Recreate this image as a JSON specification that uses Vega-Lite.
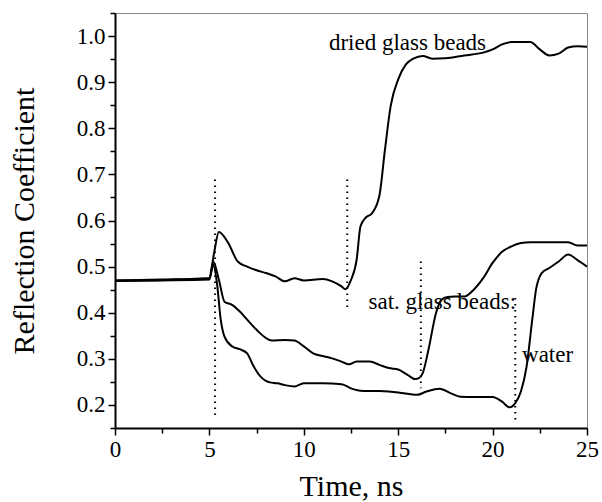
{
  "$schema": "https://vega.github.io/schema/vega-lite/v6.json",
  "autosize": {"type": "none"},
  "width": 472,
  "height": 415,
  "padding": {"left": 115, "top": 13, "right": 15, "bottom": 74},
  "background": "white",
  "config": {
    "font": "Liberation Serif",
    "view": {"stroke": "#888", "strokeWidth": 1},
    "axis": {"grid": false, "labelFont": "Liberation Serif", "titleFont": "Liberation Serif", "labelColor": "black", "titleColor": "black", "domainColor": "black", "tickColor": "black", "titleFontWeight": "normal"}
  },
  "datasets": {
    "curves": [
      {"t": 0, "r": 0.47, "s": "dried"}, {"t": 2.5, "r": 0.472, "s": "dried"}, {"t": 5, "r": 0.475, "s": "dried"}, {"t": 5.25, "r": 0.53, "s": "dried"}, {"t": 5.5, "r": 0.575, "s": "dried"}, {"t": 6, "r": 0.551, "s": "dried"}, {"t": 6.5, "r": 0.511, "s": "dried"}, {"t": 7, "r": 0.5, "s": "dried"}, {"t": 7.5, "r": 0.492, "s": "dried"}, {"t": 8, "r": 0.486, "s": "dried"}, {"t": 8.5, "r": 0.479, "s": "dried"}, {"t": 9, "r": 0.468, "s": "dried"}, {"t": 9.5, "r": 0.475, "s": "dried"}, {"t": 10, "r": 0.47, "s": "dried"}, {"t": 11, "r": 0.473, "s": "dried"}, {"t": 11.5, "r": 0.468, "s": "dried"}, {"t": 12, "r": 0.457, "s": "dried"}, {"t": 12.2, "r": 0.451, "s": "dried"}, {"t": 12.5, "r": 0.471, "s": "dried"}, {"t": 12.8, "r": 0.515, "s": "dried"}, {"t": 13, "r": 0.587, "s": "dried"}, {"t": 13.3, "r": 0.607, "s": "dried"}, {"t": 13.6, "r": 0.615, "s": "dried"}, {"t": 14, "r": 0.653, "s": "dried"}, {"t": 14.3, "r": 0.754, "s": "dried"}, {"t": 14.6, "r": 0.848, "s": "dried"}, {"t": 15, "r": 0.906, "s": "dried"}, {"t": 15.4, "r": 0.938, "s": "dried"}, {"t": 15.8, "r": 0.951, "s": "dried"}, {"t": 16.3, "r": 0.957, "s": "dried"}, {"t": 16.8, "r": 0.951, "s": "dried"}, {"t": 17.5, "r": 0.952, "s": "dried"}, {"t": 18.5, "r": 0.958, "s": "dried"}, {"t": 19.5, "r": 0.964, "s": "dried"}, {"t": 20, "r": 0.971, "s": "dried"}, {"t": 20.5, "r": 0.982, "s": "dried"}, {"t": 21, "r": 0.987, "s": "dried"}, {"t": 22, "r": 0.987, "s": "dried"}, {"t": 22.5, "r": 0.971, "s": "dried"}, {"t": 23, "r": 0.958, "s": "dried"}, {"t": 23.5, "r": 0.962, "s": "dried"}, {"t": 24, "r": 0.975, "s": "dried"}, {"t": 24.5, "r": 0.978, "s": "dried"}, {"t": 25, "r": 0.977, "s": "dried"},
      {"t": 0, "r": 0.47, "s": "sat"}, {"t": 2.5, "r": 0.471, "s": "sat"}, {"t": 5, "r": 0.474, "s": "sat"}, {"t": 5.2, "r": 0.511, "s": "sat"}, {"t": 5.5, "r": 0.472, "s": "sat"}, {"t": 5.8, "r": 0.424, "s": "sat"}, {"t": 6.2, "r": 0.417, "s": "sat"}, {"t": 6.6, "r": 0.403, "s": "sat"}, {"t": 7, "r": 0.385, "s": "sat"}, {"t": 7.5, "r": 0.363, "s": "sat"}, {"t": 8, "r": 0.345, "s": "sat"}, {"t": 8.3, "r": 0.34, "s": "sat"}, {"t": 9, "r": 0.341, "s": "sat"}, {"t": 9.5, "r": 0.34, "s": "sat"}, {"t": 10, "r": 0.327, "s": "sat"}, {"t": 10.5, "r": 0.312, "s": "sat"}, {"t": 11, "r": 0.306, "s": "sat"}, {"t": 11.5, "r": 0.301, "s": "sat"}, {"t": 12, "r": 0.294, "s": "sat"}, {"t": 12.4, "r": 0.288, "s": "sat"}, {"t": 12.8, "r": 0.294, "s": "sat"}, {"t": 13.5, "r": 0.294, "s": "sat"}, {"t": 14, "r": 0.287, "s": "sat"}, {"t": 14.5, "r": 0.28, "s": "sat"}, {"t": 15, "r": 0.277, "s": "sat"}, {"t": 15.5, "r": 0.265, "s": "sat"}, {"t": 15.9, "r": 0.256, "s": "sat"}, {"t": 16.1, "r": 0.258, "s": "sat"}, {"t": 16.3, "r": 0.269, "s": "sat"}, {"t": 16.6, "r": 0.319, "s": "sat"}, {"t": 17, "r": 0.399, "s": "sat"}, {"t": 17.3, "r": 0.428, "s": "sat"}, {"t": 17.6, "r": 0.434, "s": "sat"}, {"t": 18, "r": 0.435, "s": "sat"}, {"t": 18.5, "r": 0.435, "s": "sat"}, {"t": 19, "r": 0.45, "s": "sat"}, {"t": 19.5, "r": 0.475, "s": "sat"}, {"t": 20, "r": 0.508, "s": "sat"}, {"t": 20.5, "r": 0.532, "s": "sat"}, {"t": 21, "r": 0.544, "s": "sat"}, {"t": 21.5, "r": 0.551, "s": "sat"}, {"t": 22, "r": 0.553, "s": "sat"}, {"t": 23, "r": 0.553, "s": "sat"}, {"t": 24, "r": 0.553, "s": "sat"}, {"t": 24.5, "r": 0.546, "s": "sat"}, {"t": 25, "r": 0.546, "s": "sat"},
      {"t": 0, "r": 0.469, "s": "water"}, {"t": 2.5, "r": 0.47, "s": "water"}, {"t": 5, "r": 0.472, "s": "water"}, {"t": 5.2, "r": 0.504, "s": "water"}, {"t": 5.4, "r": 0.464, "s": "water"}, {"t": 5.6, "r": 0.385, "s": "water"}, {"t": 5.8, "r": 0.348, "s": "water"}, {"t": 6.2, "r": 0.327, "s": "water"}, {"t": 6.6, "r": 0.321, "s": "water"}, {"t": 7, "r": 0.312, "s": "water"}, {"t": 7.3, "r": 0.287, "s": "water"}, {"t": 7.7, "r": 0.262, "s": "water"}, {"t": 8.2, "r": 0.249, "s": "water"}, {"t": 8.6, "r": 0.247, "s": "water"}, {"t": 9, "r": 0.243, "s": "water"}, {"t": 9.5, "r": 0.24, "s": "water"}, {"t": 10, "r": 0.247, "s": "water"}, {"t": 11, "r": 0.247, "s": "water"}, {"t": 12, "r": 0.245, "s": "water"}, {"t": 12.5, "r": 0.236, "s": "water"}, {"t": 13, "r": 0.231, "s": "water"}, {"t": 14, "r": 0.23, "s": "water"}, {"t": 15, "r": 0.227, "s": "water"}, {"t": 16, "r": 0.222, "s": "water"}, {"t": 16.5, "r": 0.229, "s": "water"}, {"t": 17.2, "r": 0.235, "s": "water"}, {"t": 17.8, "r": 0.225, "s": "water"}, {"t": 18.3, "r": 0.218, "s": "water"}, {"t": 19, "r": 0.217, "s": "water"}, {"t": 20, "r": 0.217, "s": "water"}, {"t": 20.5, "r": 0.207, "s": "water"}, {"t": 20.9, "r": 0.195, "s": "water"}, {"t": 21.2, "r": 0.204, "s": "water"}, {"t": 21.5, "r": 0.229, "s": "water"}, {"t": 21.8, "r": 0.283, "s": "water"}, {"t": 22.1, "r": 0.385, "s": "water"}, {"t": 22.3, "r": 0.45, "s": "water"}, {"t": 22.6, "r": 0.486, "s": "water"}, {"t": 23, "r": 0.497, "s": "water"}, {"t": 23.5, "r": 0.511, "s": "water"}, {"t": 24, "r": 0.526, "s": "water"}, {"t": 24.5, "r": 0.514, "s": "water"}, {"t": 25, "r": 0.5, "s": "water"}
    ],
    "marks": [
      {"t": 5.3, "y1": 0.689, "y2": 0.176},
      {"t": 12.3, "y1": 0.689, "y2": 0.403},
      {"t": 16.2, "y1": 0.511, "y2": 0.236},
      {"t": 21.2, "y1": 0.432, "y2": 0.164}
    ],
    "labels": [
      {"t": 11.33, "r": 0.986, "text": "dried glass beads"},
      {"t": 13.43, "r": 0.424, "text": "sat. glass beads:"},
      {"t": 21.56, "r": 0.309, "text": "water"}
    ],
    "minor": [
      {"t": 2.5, "r": 0.25}, {"t": 7.5, "r": 0.35}, {"t": 12.5, "r": 0.45}, {"t": 17.5, "r": 0.55}, {"t": 22.5, "r": 0.65}
    ]
  },
  "layer": [
    {
      "data": {"name": "minor"},
      "mark": {"type": "point", "opacity": 0},
      "encoding": {
        "x": {"field": "t", "type": "quantitative", "scale": {"domain": [0, 25], "nice": false, "zero": false},
          "axis": {"orient": "bottom", "values": [2.5, 7.5, 12.5, 17.5, 22.5], "labels": false, "tickSize": 5, "tickWidth": 1.5, "domain": false, "title": null}},
        "y": {"field": "r", "type": "quantitative", "scale": {"domain": [0.15, 1.05], "nice": false, "zero": false},
          "axis": {"orient": "left", "values": [0.15, 0.25, 0.35, 0.45, 0.55, 0.65, 0.75, 0.85, 0.95, 1.05], "labels": false, "tickSize": 5, "tickWidth": 1.5, "domain": false, "title": null}}
      }
    },
    {
      "data": {"name": "curves"},
      "mark": {"type": "line", "color": "black", "strokeWidth": 2, "interpolate": "monotone"},
      "encoding": {
        "x": {"field": "t", "type": "quantitative", "scale": {"domain": [0, 25], "nice": false, "zero": false},
          "axis": {"orient": "bottom", "values": [0, 5, 10, 15, 20, 25], "tickSize": 7, "tickWidth": 1.5, "domainWidth": 2, "labelFont": "Liberation Serif", "labelFontSize": 23, "labelPadding": 3, "labelFlush": false, "title": "Time, ns", "titleFont": "Liberation Serif", "titleFontSize": 30, "titlePadding": 10}},
        "y": {"field": "r", "type": "quantitative", "scale": {"domain": [0.15, 1.05], "nice": false, "zero": false},
          "axis": {"orient": "left", "values": [0.2, 0.3, 0.4, 0.5, 0.6, 0.7, 0.8, 0.9, 1.0], "format": ".1f", "tickSize": 7, "tickWidth": 1.5, "domainWidth": 2, "labelFont": "Liberation Serif", "labelFontSize": 23, "labelPadding": 3, "labelFlush": false, "title": "Reflection Coefficient", "titleFont": "Liberation Serif", "titleFontSize": 30, "titlePadding": 37}},
        "detail": {"field": "s", "type": "nominal"}
      }
    },
    {
      "data": {"name": "marks"},
      "mark": {"type": "rule", "color": "black", "strokeWidth": 2, "strokeDash": [1.5, 4.5]},
      "encoding": {
        "x": {"field": "t", "type": "quantitative", "axis": null},
        "y": {"field": "y1", "type": "quantitative", "axis": null},
        "y2": {"field": "y2"}
      }
    },
    {
      "data": {"name": "labels"},
      "mark": {"type": "text", "align": "left", "baseline": "middle", "fontSize": 23, "font": "Liberation Serif", "color": "black"},
      "encoding": {
        "x": {"field": "t", "type": "quantitative", "axis": null},
        "y": {"field": "r", "type": "quantitative", "axis": null},
        "text": {"field": "text"}
      }
    }
  ],
  "resolve": {"axis": {"x": "independent", "y": "independent"}}
}
